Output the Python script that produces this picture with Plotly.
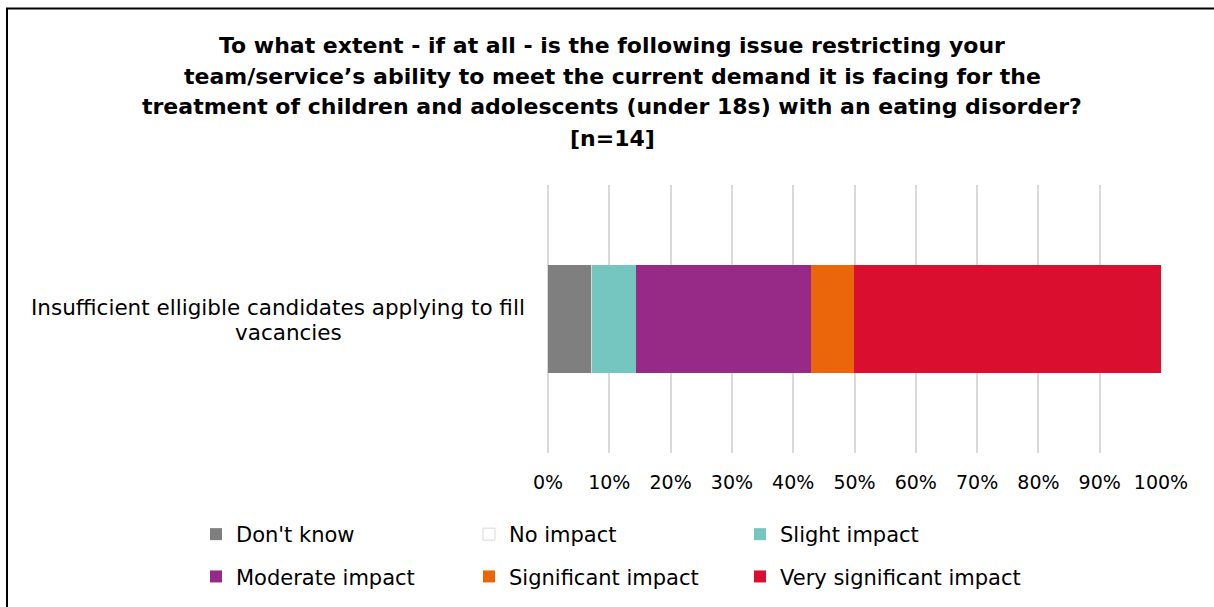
import plotly.graph_objects as go

# Survey question and response data (n=14)
title_lines = [
    "To what extent - if at all - is the following issue restricting your",
    "team/service\u2019s ability to meet the current demand it is facing for the",
    "treatment of children and adolescents (under 18s) with an eating disorder?",
    "[n=14]",
]
category = "Insufficient elligible candidates applying to fill vacancies"
category_lines = ["Insufficient elligible candidates applying to fill", "vacancies"]

series_names = ["Don't know", "No impact", "Slight impact",
                "Moderate impact", "Significant impact", "Very significant impact"]
series_values = [7.14, 0.0, 7.14, 28.57, 7.14, 50.0]
series_colors = ["#7f7f7f", "#ffffff", "#75c5c1", "#962a86", "#eb660a", "#da0e2e"]
# legend column for each series (two rows of three)
series_legend = ["legend", "legend2", "legend3", "legend", "legend2", "legend3"]

tick_values = [0, 10, 20, 30, 40, 50, 60, 70, 80, 90, 100]
tick_labels = ["0%", "10%", "20%", "30%", "40%", "50%", "60%", "70%", "80%", "90%", "100%"]

W, H = 1214, 607
ML, MR, MT, MB = 548, 53, 185, 154
PW, PH = W - ML - MR, H - MT - MB

FONT = "DejaVu Sans"

fig = go.Figure()
for name, val, col, lg in zip(series_names, series_values, series_colors, series_legend):
    fig.add_trace(go.Bar(
        y=[category], x=[val], name=name, orientation="h",
        marker=dict(color=col,
                    line=dict(color="#d9d9d9" if col == "#ffffff" else col,
                              width=1 if col == "#ffffff" else 0)),
        legend=lg, legendgroup=name, hoverinfo="name+x",
    ))

annotations = []
title_top = 45
for i, line in enumerate(title_lines):
    annotations.append(dict(
        text="<b>%s</b>" % line, xref="paper", yref="paper",
        x=(612 - ML) / PW, y=(H - MB - (title_top + 31 * i)) / PH,
        xanchor="center", yanchor="middle", showarrow=False,
        font=dict(family=FONT, size=22, color="#000000"),
    ))
# category label: first line ends near the axis, second line centred under it
annotations.append(dict(
    text=category_lines[0], xref="paper", yref="y", x=0, y=category,
    xanchor="right", yanchor="middle", xshift=-21, yshift=12,
    showarrow=False, font=dict(family=FONT, size=21.5, color="#000000"),
))
annotations.append(dict(
    text=category_lines[1], xref="paper", yref="y", x=(288 - ML) / PW, y=category,
    xanchor="center", yanchor="middle", yshift=-13,
    showarrow=False, font=dict(family=FONT, size=21.5, color="#000000"),
))

legend_common = dict(
    orientation="v", xref="container", yref="container",
    xanchor="left", yanchor="top", y=1 - 514 / H,
    font=dict(family=FONT, size=21, color="#000000"),
    tracegroupgap=12, traceorder="grouped",
    bgcolor="rgba(0,0,0,0)",
)

fig.update_layout(
    width=W, height=H, barmode="stack", bargap=0.6,
    margin=dict(l=ML, r=MR, t=MT, b=MB, autoexpand=False),
    paper_bgcolor="#ffffff", plot_bgcolor="#ffffff",
    font=dict(family=FONT, color="#000000"),
    xaxis=dict(range=[0, 100], tickvals=tick_values, ticktext=tick_labels,
               showgrid=True, gridcolor="#d9d9d9", gridwidth=2,
               zeroline=True, zerolinecolor="#d9d9d9", zerolinewidth=2,
               showline=False, ticks="", ticklabelstandoff=16, fixedrange=True,
               tickfont=dict(family=FONT, size=19, color="#000000")),
    yaxis=dict(showticklabels=False, showgrid=False, zeroline=False,
               showline=False, ticks="", fixedrange=True),
    legend=dict(legend_common, x=196 / W),
    legend2=dict(legend_common, x=469 / W),
    legend3=dict(legend_common, x=740 / W),
    annotations=annotations,
    shapes=[dict(
        type="rect", xref="paper", yref="paper",
        x0=(7 - ML) / PW, x1=(1240 - ML) / PW,
        y0=(H - MB - 640) / PH, y1=(H - MB - 8.5) / PH,
        line=dict(color="#000000", width=2), fillcolor="rgba(0,0,0,0)", layer="above",
    )],
)

fig.write_html("out.html")
